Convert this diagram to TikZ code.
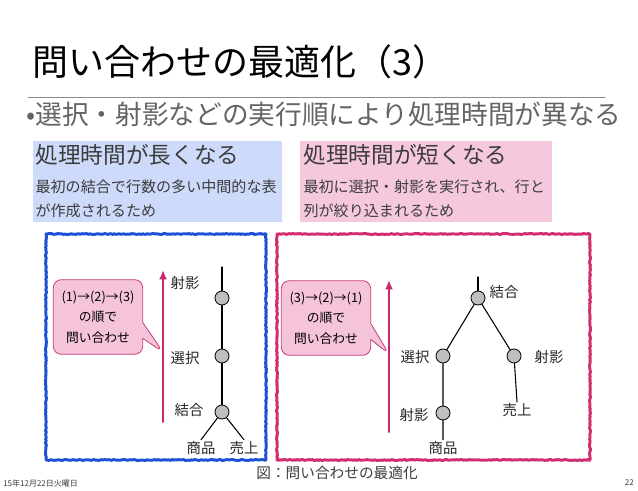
\documentclass[tikz,border=0pt]{standalone}
\usepackage{fontspec}
\setmainfont{Noto Sans CJK JP}
\usetikzlibrary{shapes.callouts,decorations.pathmorphing,arrows.meta}
\definecolor{boxblue}{RGB}{205,218,250}
\definecolor{boxpink}{RGB}{245,200,222}
\definecolor{frameblue}{RGB}{30,80,215}
\definecolor{framepink}{RGB}{210,45,110}
\definecolor{ordercol}{RGB}{200,40,110}
\definecolor{notefill}{RGB}{245,195,218}
\definecolor{noteline}{RGB}{200,60,120}
\definecolor{headgray}{RGB}{60,60,60}
\definecolor{leadgray}{RGB}{100,100,100}
\tikzset{
  dot/.style={circle,draw=black,fill=black!25,line width=0.6pt,minimum size=10.5pt,inner sep=0pt},
  lbl/.style={inner sep=1pt,font=\fontsize{10.8}{12}\selectfont,text=black!85},
  rough/.style={decorate,decoration={random steps,segment length=1.2pt,amplitude=0.35pt}},
  flow/.style={draw=ordercol,line width=1.5pt,-{Latex[length=7pt,width=6pt]}},
  note/.style={rectangle callout,rounded corners=6pt,fill=notefill,draw=noteline,line width=0.6pt,
    minimum width=67pt,minimum height=56pt,align=center,inner sep=1.5pt,
    callout pointer width=12pt,font=\fontsize{9.6}{15.5}\selectfont}
}
\begin{document}
\begin{tikzpicture}[x=0.75pt,y=-0.75pt,line cap=round,line join=round,>=latex]
  \useasboundingbox (0,0) rectangle (638,491);
  % heading
  \node[anchor=west,inner sep=0pt,font=\fontsize{27}{30}\selectfont] (title) at (32,62) {問い合わせの最適化（3）};
  \draw[black!45,line width=0.6pt] (28,97) -- (605,97);
  \node[anchor=west,inner sep=0pt,text=leadgray,font=\fontsize{20}{24}\selectfont] (lead) at (26,114) {•選択・射影などの実行順により処理時間が異なる};
  % the two notes
  \fill[boxblue] (33,141) rectangle (282,222);
  \fill[boxpink] (300,141) rectangle (552,222);
  \node[anchor=west,inner sep=1pt,text=headgray,font=\fontsize{17}{20}\selectfont] (slowhead) at (34,155) {処理時間が長くなる};
  \node[anchor=north west,inner sep=1pt,align=left,text=headgray,font=\fontsize{11.3}{18}\selectfont] (slowtext) at (34,178) {最初の結合で行数の多い中間的な表\\が作成されるため};
  \node[anchor=west,inner sep=1pt,text=headgray,font=\fontsize{17}{20}\selectfont] (fasthead) at (302,155) {処理時間が短くなる};
  \node[anchor=north west,inner sep=1pt,align=left,text=headgray,font=\fontsize{11.3}{18}\selectfont] (fasttext) at (302,178) {最初に選択・射影を実行され、行と\\列が絞り込まれるため};
  % frames
  \draw[frameblue,line width=2.2pt,rough] (46,234) rectangle (266,460);
  \draw[framepink,line width=2.2pt,rough] (277,234) rectangle (590,460);
  % left plan
  \coordinate (ltop) at (222,267);
  \node[dot] (lproj) at (222,298) {};
  \node[dot] (lsel) at (222,356) {};
  \node[dot] (ljoin) at (222,412) {};
  \node[lbl] (lprojlbl) at (185,283) {射影};
  \node[lbl] (lsellbl) at (185,358) {選択};
  \node[lbl] (ljoinlbl) at (189,410) {結合};
  \node[lbl] (litem) at (201,448) {商品};
  \node[lbl] (lsales) at (244,448) {売上};
  \draw[line width=0.8pt] (ltop) -- (lproj) -- (lsel) -- (ljoin);
  \draw[line width=0.8pt] (ljoin) -- (litem.north);
  \draw[line width=0.8pt] (ljoin) -- (lsales.north);
  \coordinate (lfrom) at (163,422);
  \coordinate (lto) at (163,270);
  \coordinate (lpin) at (163,352);
  \draw[flow] (lfrom) -- (lto);
  \node[note,callout absolute pointer={(lpin)}] (lnote) at (98,317) {(1)→(2)→(3)\\の順で\\問い合わせ};
  % right plan
  \coordinate (rtop) at (478,277);
  \node[dot] (rjoin) at (478,298) {};
  \node[dot] (rsel) at (443,356) {};
  \node[dot] (rproj) at (514,356) {};
  \node[dot] (rproj2) at (443,413) {};
  \node[lbl] (rjoinlbl) at (504,292) {結合};
  \node[lbl] (rsellbl) at (415,357) {選択};
  \node[lbl] (rprojlbl) at (549,357) {射影};
  \node[lbl] (rproj2lbl) at (414,415) {射影};
  \node[lbl] (ritem) at (443,448) {商品};
  \node[lbl] (rsales) at (517,410) {売上};
  \draw[line width=0.8pt] (rtop) -- (rjoin);
  \draw[line width=0.8pt] (rjoin) -- (rsel) -- (rproj2) -- (ritem.north);
  \draw[line width=0.8pt] (rjoin) -- (rproj) -- (rsales.north);
  \coordinate (rfrom) at (389,432);
  \coordinate (rto) at (389,280);
  \coordinate (rpin) at (389,354);
  \draw[flow] (rfrom) -- (rto);
  \node[note,callout absolute pointer={(rpin)}] (rnote) at (326,318) {(3)→(2)→(1)\\の順で\\問い合わせ};
  % caption and footer
  \node[inner sep=1pt,text=headgray,font=\fontsize{11}{13}\selectfont] (caption) at (337,473) {図：問い合わせの最適化};
  \node[anchor=west,inner sep=0pt,text=headgray,font=\fontsize{6}{7}\selectfont] (date) at (3,483) {15年12月22日火曜日};
  \node[anchor=east,inner sep=0pt,text=headgray,font=\fontsize{6}{7}\selectfont] (page) at (634,483) {22};
\end{tikzpicture}
\end{document}
